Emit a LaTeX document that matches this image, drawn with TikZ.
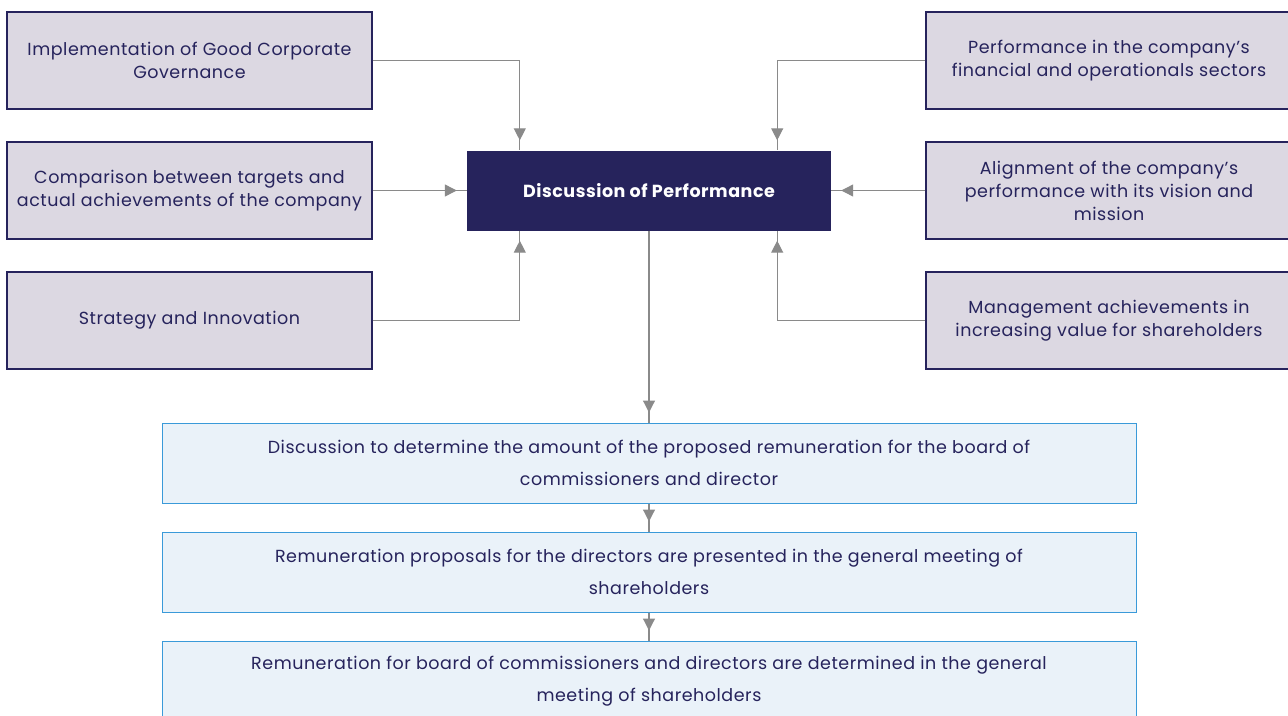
\documentclass[tikz,border=0pt]{standalone}
\usepackage{fontspec}
\setmainfont{Poppins}[LetterSpace=3]
\usetikzlibrary{arrows.meta,decorations.markings,calc}
\definecolor{navy}{HTML}{26235C}
\definecolor{lav}{HTML}{DCD8E2}
\definecolor{pale}{HTML}{EAF2F9}
\definecolor{blueline}{HTML}{3A9AD9}
\definecolor{conn}{HTML}{8A8A8A}
\begin{document}
\begin{tikzpicture}[x=1pt,y=-1pt,
  sidebox/.style={draw=navy,line width=1.2pt,fill=lav,minimum width=365pt,minimum height=97pt,
     text=navy,align=center,inner sep=0pt,font=\fontsize{17.5}{23}\selectfont},
  centerbox/.style={fill=navy,minimum width=364pt,minimum height=80pt,text=white,
     font=\fontsize{17.5}{20}\selectfont\bfseries,inner sep=0pt},
  stepbox/.style={draw=blueline,line width=1pt,fill=pale,minimum width=974pt,minimum height=80pt,
     text=navy,align=center,inner sep=0pt,font=\fontsize{17.5}{32}\selectfont},
  conn/.style={draw=conn,line width=1.2pt,postaction={decorate},
     decoration={markings,mark=at position -10pt with {\arrow{Triangle[length=12pt,width=12pt]}}}}
]
\useasboundingbox (0,0) rectangle (1288,715);
% left boxes
\node[sidebox] (l1) at (189.5,60.5) {Implementation of Good Corporate\\Governance};
\node[sidebox] (l2) at (189.5,190.5) {Comparison between targets and\\actual achievements of the company};
\node[sidebox] (l3) at (189.5,320.5) {Strategy and Innovation};
% right boxes
\node[sidebox,minimum width=366pt] (r1) at (1109,60.5) {Performance in the company’s\\financial and operationals sectors};
\node[sidebox,minimum width=366pt] (r2) at (1109,190.5) {Alignment of the company’s\\performance with its vision and\\mission};
\node[sidebox,minimum width=366pt] (r3) at (1109,320.5) {Management achievements in\\increasing value for shareholders};
% center
\node[centerbox] (c) at (649,190.5) {Discussion of Performance};
% bottom steps
\node[stepbox] (s1) at (649,463) {Discussion to determine the amount of the proposed remuneration for the board of\\commissioners and director};
\node[stepbox] (s2) at (649,572) {Remuneration proposals for the directors are presented in the general meeting of\\shareholders};
\node[stepbox] (s3) at (649,681) {Remuneration for board of commissioners and directors are determined in the general\\meeting of shareholders};
% connectors
\path[conn] (l1.east) -| ($(c.north west)+(53,0)$);
\path[conn] (l2.east) -- (c.west);
\path[conn] (l3.east) -| ($(c.south west)+(53,0)$);
\path[conn] (r1.west) -| ($(c.north east)+(-54,0)$);
\path[conn] (r2.west) -- (c.east);
\path[conn] (r3.west) -| ($(c.south east)+(-54,0)$);
\path[conn] (c.south) -- (s1.north);
\path[conn] (s1.south) -- (s2.north);
\path[conn] (s2.south) -- (s3.north);
\end{tikzpicture}
\end{document}
